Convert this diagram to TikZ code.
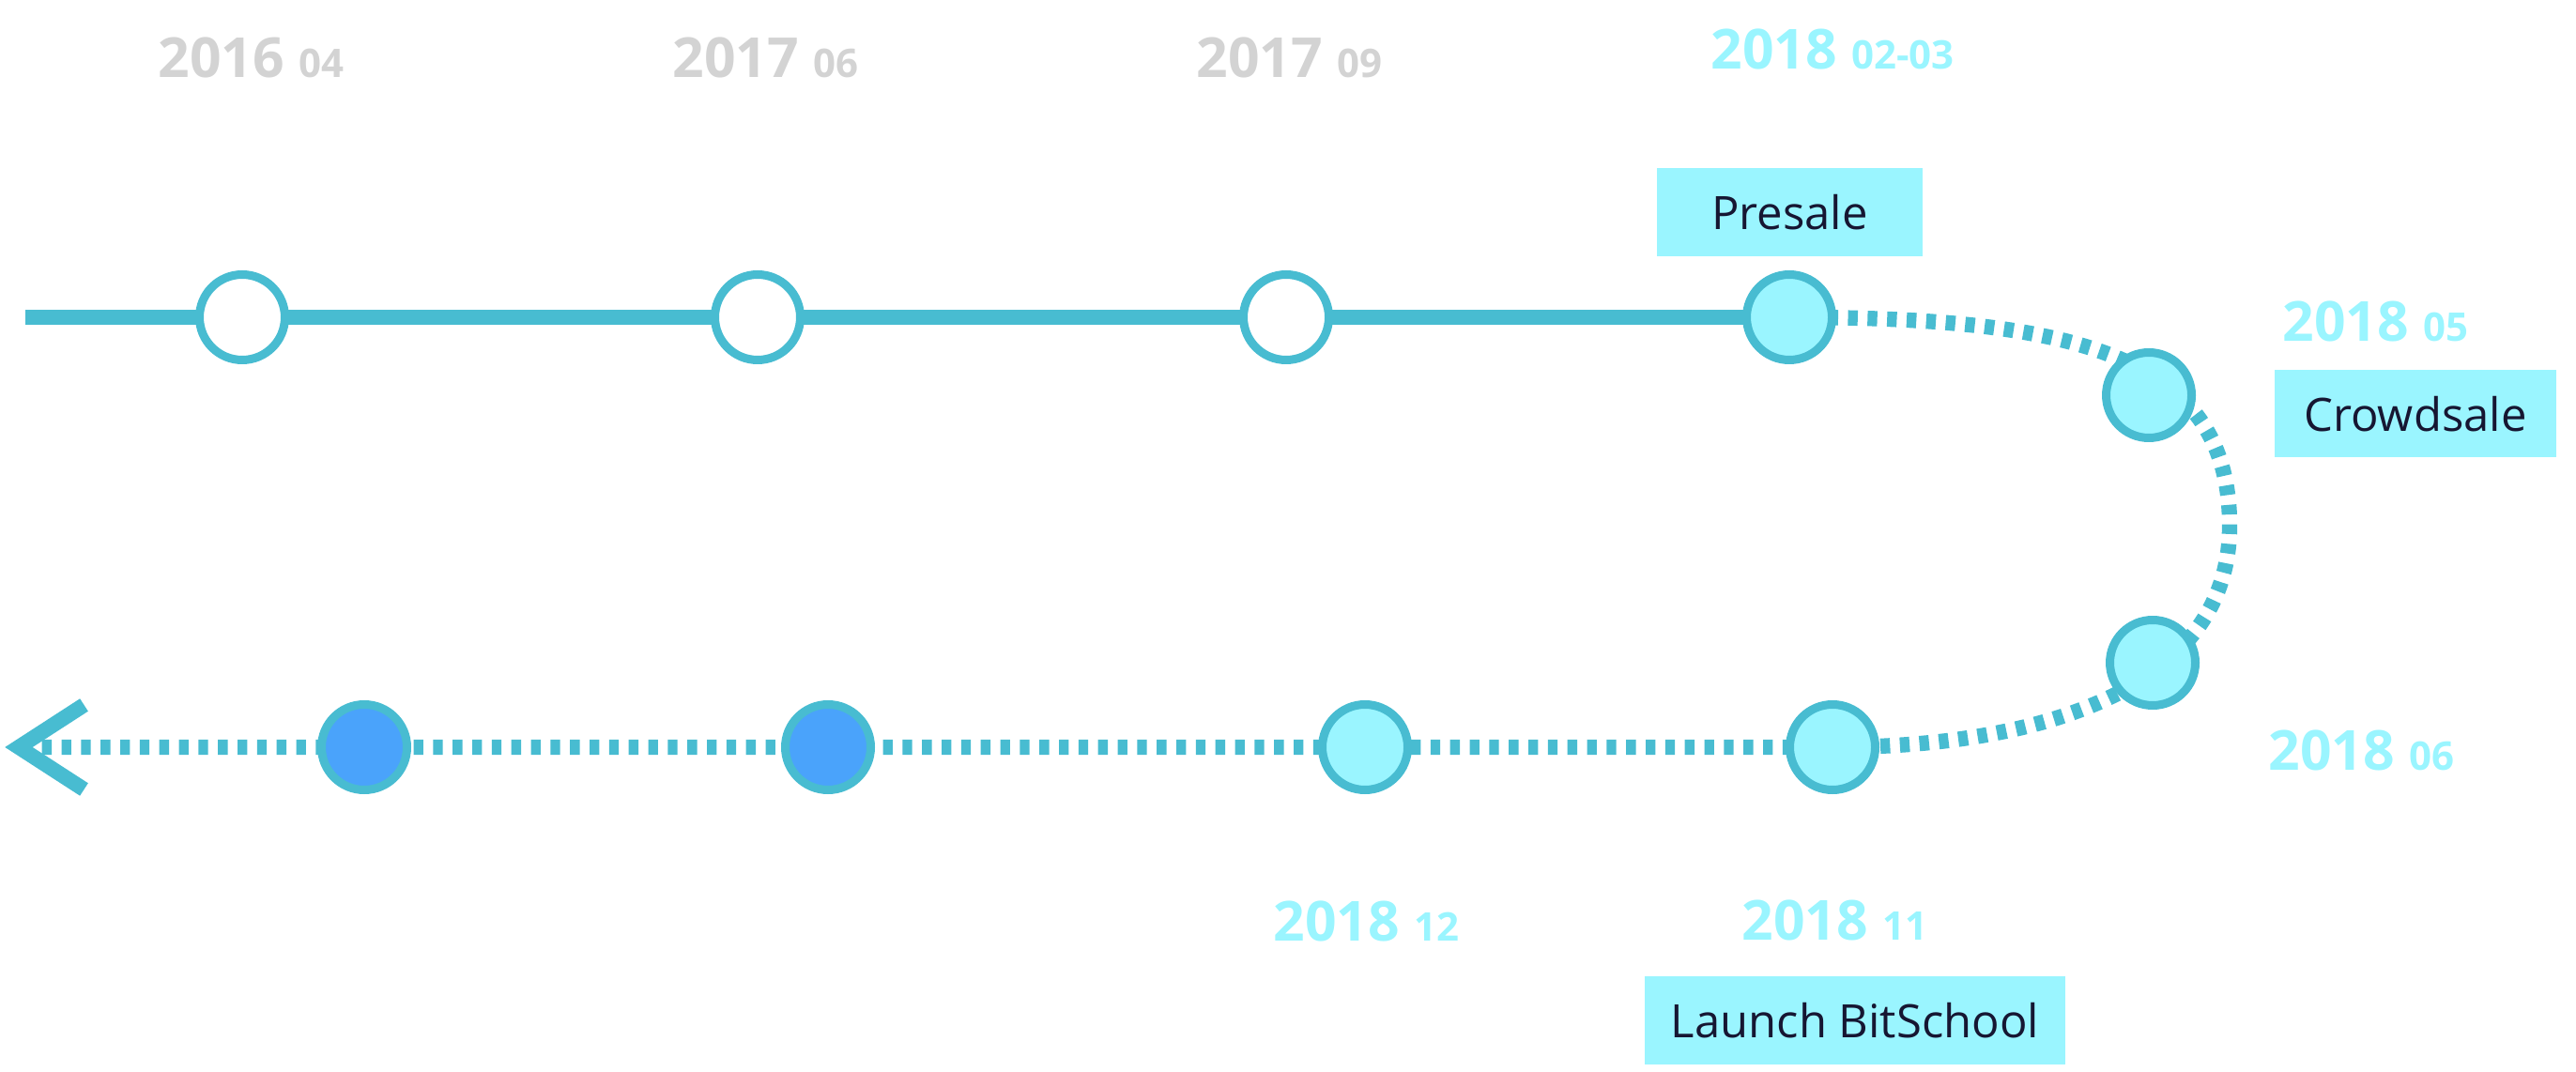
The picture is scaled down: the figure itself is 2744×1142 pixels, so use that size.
\documentclass[tikz,border=0pt]{standalone}
\usepackage{fontspec}
\setmainfont{Open Sans}
\usetikzlibrary{backgrounds}
\definecolor{lineC}{RGB}{72,188,209}
\definecolor{cyanC}{RGB}{154,245,255}
\definecolor{grayC}{RGB}{211,211,211}
\definecolor{blueC}{RGB}{74,163,251}
\definecolor{navyC}{RGB}{22,22,50}
\newcommand{\mth}[1]{{\fontsize{12.6}{14}\selectfont #1}}
\begin{document}
\begin{tikzpicture}[x=0.3pt,y=-0.3pt,
  milestone/.style={circle,draw=lineC,line width=2.7pt,minimum size=27.3pt,inner sep=0pt},
  past/.style={milestone,fill=white},
  done/.style={milestone,fill=cyanC},
  future/.style={milestone,fill=blueC},
  solidline/.style={draw=lineC,line width=4.9pt},
  dotline/.style={draw=lineC,line width=4.9pt,dash pattern=on 3.1pt off 3.15pt},
  arrowline/.style={draw=lineC,line width=4.8pt,miter limit=10},
  tag/.style={fill=cyanC,text=navyC,inner sep=0pt,text depth=0pt,
    font=\fontsize{14.7}{17}\selectfont},
  datelbl/.style={anchor=base west,inner sep=0pt,font=\bfseries\fontsize{17.65}{20}\selectfont},
  oldlbl/.style={datelbl,text=grayC},
  newlbl/.style={datelbl,text=cyanC},
]
\useasboundingbox (0,0) rectangle (2744,1142);

% milestones
\node[past] (c1) at (258,338) {};
\node[past] (c2) at (807,338) {};
\node[past] (c3) at (1370,338) {};
\node[done] (presale) at (1906,338) {};
\node[done] (may) at (2289,421) {};
\node[done] (jun) at (2293,706) {};
\node[done] (nov) at (1952,796) {};
\node[done] (dec) at (1454,796) {};
\node[future] (f1) at (882,796) {};
\node[future] (f2) at (388,796) {};

\coordinate (start) at (27,338);
\coordinate (turn) at (2375,560);
\coordinate (tip) at (20,796);

\begin{scope}[on background layer]
\draw[solidline] (start) -- (c1.center) -- (c2.center) -- (c3.center) -- (presale.center);
\draw[dotline] (presale.center) .. controls +(304,0) and +(0,-182) .. (turn)
  .. controls +(0,170) and +(230,0) .. (nov.center)
  -- (dec.center) -- (f1.center) -- (f2.center) -- (tip);
\end{scope}

% arrow head
\draw[arrowline] (tip) ++(69.5,-45) -- (tip) -- +(69.5,45);

% tags
\node[tag,minimum width=84.9pt,minimum height=28.2pt] (presaleTag) at (1906.5,226) {Presale};
\node[tag,minimum width=90pt,minimum height=27.9pt] (crowdTag) at (2573,440.5) {Crowdsale};
\node[tag,minimum width=134.4pt,minimum height=28.2pt] (launchTag) at (1976,1087) {Launch BitSchool};

% dates
\node[oldlbl] (d1) at (168,83) {2016 \mth{04}};
\node[oldlbl] (d2) at (716,83) {2017 \mth{06}};
\node[oldlbl] (d3) at (1274,83) {2017 \mth{09}};
\node[newlbl] (d4) at (1822,74) {2018 \mth{02-03}};
\node[newlbl] (d5) at (2431,364) {2018 \mth{05}};
\node[newlbl] (d6) at (2416,820) {2018 \mth{06}};
\node[newlbl] (d7) at (1855,1001) {2018 \mth{11}};
\node[newlbl] (d8) at (1356,1002) {2018 \mth{12}};
\end{tikzpicture}
\end{document}
